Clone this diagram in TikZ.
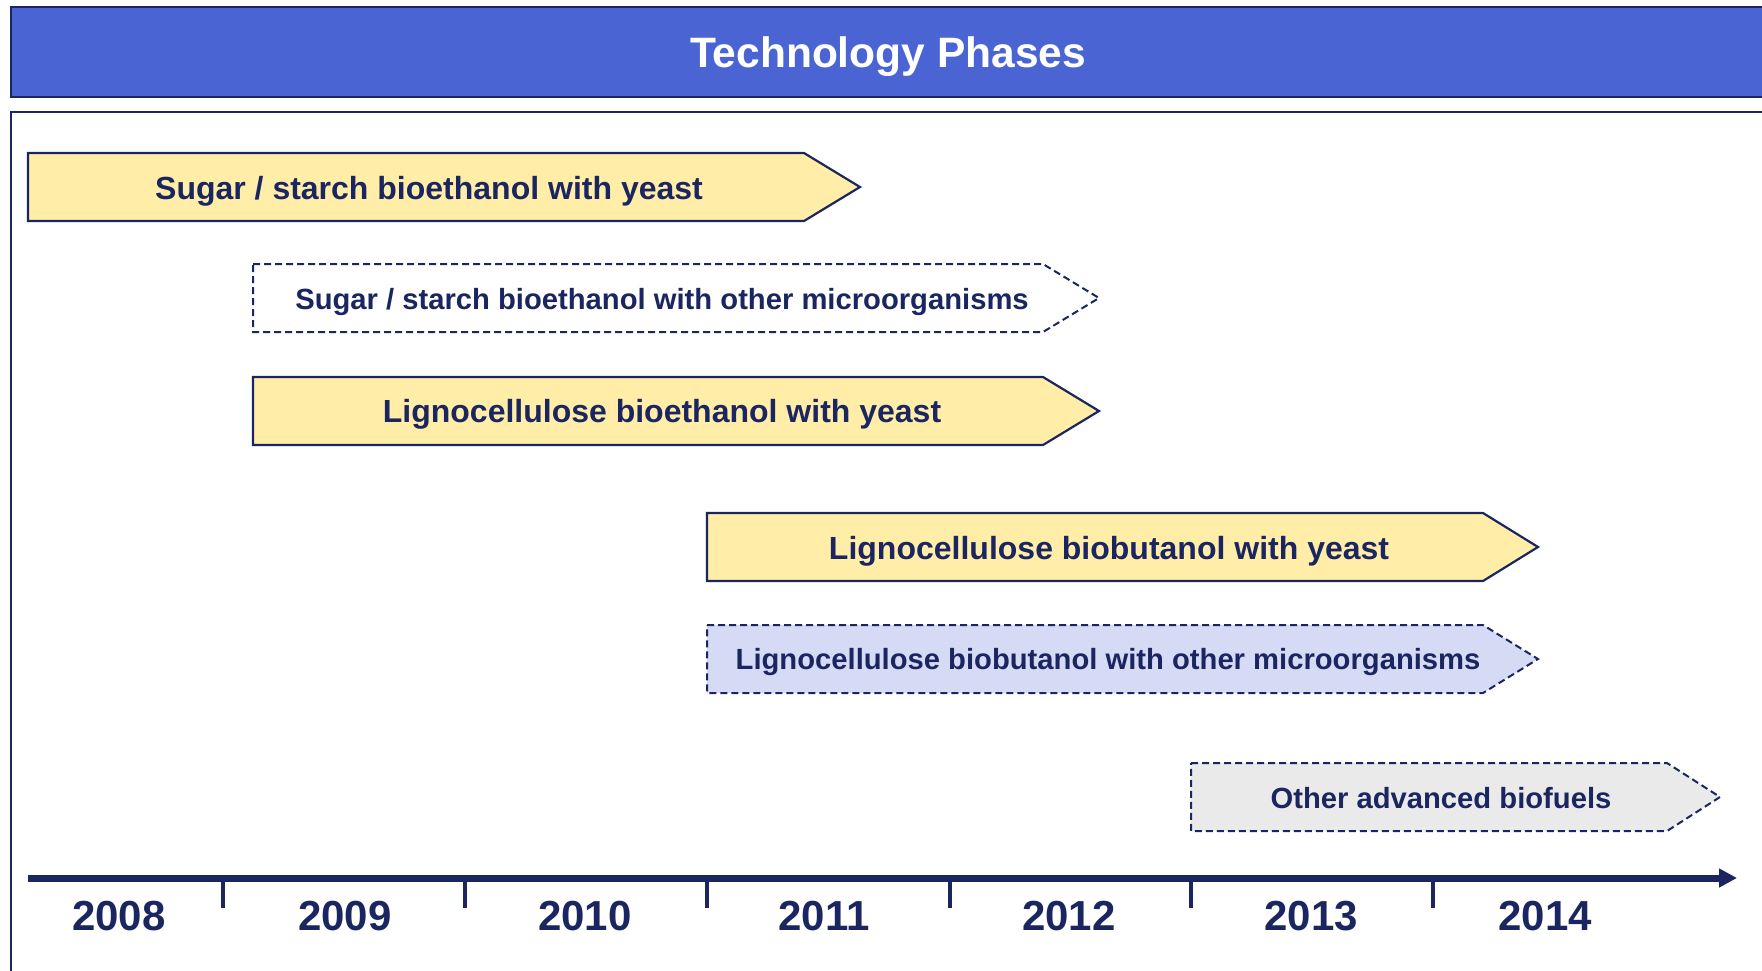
\documentclass[tikz,border=0pt]{standalone}
\usepackage{fontspec}
\setmainfont{Liberation Sans}
\usetikzlibrary{arrows.meta}

\definecolor{navy}{HTML}{1B2660}
\definecolor{headblue}{HTML}{4A65D3}
\definecolor{baryellow}{HTML}{FFEDA8}
\definecolor{barlilac}{HTML}{D5DAF5}
\definecolor{bargrey}{HTML}{EAEAEA}

\tikzset{
  solidbar/.style={draw=navy, line width=2.2pt, line join=miter},
  dashbar/.style={draw=navy, line width=2pt, dash pattern=on 7pt off 4pt},
  bigtext/.style={text=navy, font=\bfseries\fontsize{32}{38}\selectfont, inner sep=0pt},
  smalltext/.style={text=navy, font=\bfseries\fontsize{29.2}{35}\selectfont, inner sep=0pt},
  yeartext/.style={text=navy, font=\bfseries\fontsize{42}{50}\selectfont, inner sep=0pt},
  tickmark/.style={draw=navy, line width=4pt},
}

\begin{document}
\begin{tikzpicture}[x=1pt, y=-1pt]
\useasboundingbox (0,0) rectangle (1762,970);
\clip (0,0) rectangle (1762,970);

% header band
\draw[fill=headblue, draw=navy, line width=2.5pt] (11,7) rectangle (1790,97);
\node[text=white, font=\bfseries\fontsize{42.5}{50}\selectfont, inner sep=0pt] (title) at (888,57) {Technology Phases};

% chart frame
\draw[draw=navy, line width=2pt] (11,1000) -- (11,112) -- (1790,112);

% phase bars
\draw[solidbar, fill=baryellow] (28,153) -- (804,153) -- (860,187) -- (804,221) -- (28,221) -- cycle;
\node[bigtext] (p1) at (429,191) {Sugar / starch bioethanol with yeast};

\draw[dashbar, fill=white] (253,264) -- (1043,264) -- (1099,298) -- (1043,332) -- (253,332) -- cycle;
\node[smalltext] (p2) at (662,302) {Sugar / starch bioethanol with other microorganisms};

\draw[solidbar, fill=baryellow] (253,377) -- (1043,377) -- (1099,411) -- (1043,445) -- (253,445) -- cycle;
\node[bigtext] (p3) at (662,414) {Lignocellulose bioethanol with yeast};

\draw[solidbar, fill=baryellow] (707,513) -- (1483,513) -- (1538,547) -- (1483,581) -- (707,581) -- cycle;
\node[bigtext] (p4) at (1109,551) {Lignocellulose biobutanol with yeast};

\draw[dashbar, fill=barlilac] (707,625) -- (1483,625) -- (1538,659) -- (1483,693) -- (707,693) -- cycle;
\node[smalltext] (p5) at (1108,662) {Lignocellulose biobutanol with other microorganisms};

\draw[dashbar, fill=bargrey] (1191,763) -- (1667,763) -- (1720,797) -- (1667,831) -- (1191,831) -- cycle;
\node[smalltext] (p6) at (1441,798) {Other advanced biofuels};

% time axis
\coordinate (axstart) at (28,878);
\coordinate (axend) at (1737,878);
\draw[navy, line width=7pt, -{Triangle[length=18pt, width=18pt]}] (axstart) -- (axend);
\foreach \tx in {223,465,707,950,1191,1433}
  \draw[tickmark] (\tx,878) -- (\tx,908);

\node[yeartext] (y2008) at (119,916) {2008};
\node[yeartext] (y2009) at (345,916) {2009};
\node[yeartext] (y2010) at (585,916) {2010};
\node[yeartext] (y2011) at (824,916) {2011};
\node[yeartext] (y2012) at (1069,916) {2012};
\node[yeartext] (y2013) at (1311,916) {2013};
\node[yeartext] (y2014) at (1545,916) {2014};
\end{tikzpicture}
\end{document}
